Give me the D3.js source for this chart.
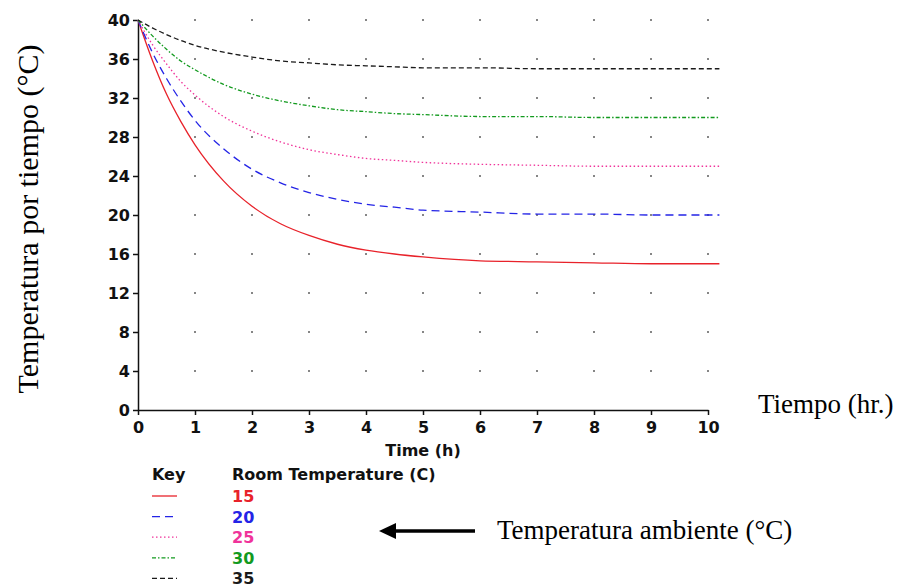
<!DOCTYPE html>
<html>
<head>
<meta charset="utf-8">
<script src="https://cdn.jsdelivr.net/npm/d3@7"></script>
<style>
  body { margin: 0; background: #fff; }
  .tick text { font-family: "DejaVu Sans", Verdana, sans-serif; font-weight: bold; font-size: 16px; fill: #111; }
  .lbl { font-family: "DejaVu Sans", Verdana, sans-serif; font-weight: bold; font-size: 16px; fill: #111; }
  .serif { font-family: "Liberation Serif", "Times New Roman", serif; fill: #000; }
</style>
</head>
<body>
<div id="plot"></div>
<script>
// hours
let times = [0, 0.25, 0.5, 0.75, 1, 1.5, 2, 2.5, 3, 3.5, 4, 4.5, 5, 6, 7, 8, 9, 10, 10.2];

// one list per room temperature
let temp15 = [40, 35.9, 32.4, 29.6, 27.2, 23.5, 20.9, 19.1, 17.9, 17.0, 16.4, 16.0, 15.7, 15.3, 15.2, 15.1, 15.0, 15.0, 15.0];
let temp20 = [40, 36.7, 34.0, 31.7, 29.7, 26.8, 24.7, 23.3, 22.3, 21.6, 21.1, 20.8, 20.5, 20.3, 20.1, 20.1, 20.0, 20.0, 20.0];
let temp25 = [40, 37.5, 35.5, 33.7, 32.3, 30.1, 28.6, 27.5, 26.7, 26.2, 25.8, 25.6, 25.4, 25.2, 25.1, 25.0, 25.0, 25.0, 25.0];
let temp30 = [40, 38.4, 37.0, 35.8, 34.9, 33.4, 32.4, 31.7, 31.2, 30.8, 30.6, 30.4, 30.3, 30.1, 30.1, 30.0, 30.0, 30.0, 30.0];
let temp35 = [40, 39.2, 38.5, 37.9, 37.4, 36.7, 36.2, 35.8, 35.6, 35.4, 35.3, 35.2, 35.1, 35.1, 35.0, 35.0, 35.0, 35.0, 35.0];

let roomTemps = ['15', '20', '25', '30', '35'];
let colors = ['#e8222a', '#2424e6', '#f0339a', '#129a1e', '#1a1a1a'];
let dashes = ['none', '8,5', '1.5,2.5', '4,2,1.5,2', '5,3'];

let xTicks = [0, 1, 2, 3, 4, 5, 6, 7, 8, 9, 10];
let yTicks = [0, 4, 8, 12, 16, 20, 24, 28, 32, 36, 40];

let svgWidth = 898;
let svgHeight = 587;
let margin = { top: 20, left: 138 };
let width = 570;
let height = 390;

let series = [temp15, temp20, temp25, temp30, temp35];

let svg = d3.select('#plot')
            .append('svg')
            .attr('width', svgWidth)
            .attr('height', svgHeight);

let chart = svg.append('g')
               .attr('transform', `translate(${margin.left},${margin.top})`);

let xScale = d3.scaleLinear().domain([0, 10]).range([0, width]);
let yScale = d3.scaleLinear().domain([0, 40]).range([height, 0]);

// dotted grid
let dots = [];
xTicks.slice(1).forEach(function(tx){
    yTicks.slice(1).forEach(function(ty){
        dots.push([tx, ty]);
    })
})
chart.selectAll('.dot')
     .data(dots)
     .enter()
     .append('rect')
     .attr('x', d => xScale(d[0]) - 0.8)
     .attr('y', d => yScale(d[1]) - 0.8)
     .attr('width', 1.6)
     .attr('height', 1.6)
     .attr('fill', '#444');

let xAxis = d3.axisBottom(xScale).tickValues(xTicks).tickSize(5).tickSizeOuter(0).tickPadding(7);
let yAxis = d3.axisLeft(yScale).tickValues(yTicks).tickSize(5).tickSizeOuter(0).tickPadding(3);

chart.append('g')
     .attr('transform', `translate(0,${height})`)
     .call(xAxis)
     .call(g => g.select('.domain').attr('stroke', '#111').attr('stroke-width', 1.5))
     .call(g => g.selectAll('.tick line').attr('stroke', '#111').attr('stroke-width', 1.5));

chart.append('g')
     .call(yAxis)
     .call(g => g.select('.domain').attr('stroke', '#111').attr('stroke-width', 1.5))
     .call(g => g.selectAll('.tick line').attr('stroke', '#111').attr('stroke-width', 1.5));

let line = d3.line()
             .x((d, i) => xScale(times[i]))
             .y(d => yScale(d))
             .curve(d3.curveMonotoneX);

chart.selectAll('.curve')
     .data(series)
     .enter()
     .append('path')
     .attr('d', d => line(d))
     .attr('fill', 'none')
     .attr('stroke', (d, i) => colors[i])
     .attr('stroke-width', 1.3)
     .attr('stroke-dasharray', (d, i) => dashes[i]);

// axis title
chart.append('text')
     .attr('class', 'lbl')
     .attr('x', xScale(5))
     .attr('y', height + 46)
     .attr('text-anchor', 'middle')
     .text('Time (h)');

// key
let key = svg.append('g').attr('transform', 'translate(152,480)');
key.append('text').attr('class', 'lbl').attr('x', 0).attr('y', 0).text('Key');
key.append('text').attr('class', 'lbl').attr('x', 80).attr('y', 0).text('Room Temperature (C)');

let keyRow = key.selectAll('.row')
                .data(roomTemps)
                .enter()
                .append('g')
                .attr('transform', (d, i) => `translate(0,${16 + i * 20.6})`);

keyRow.append('line')
      .attr('x1', 0).attr('x2', 25)
      .attr('y1', 0).attr('y2', 0)
      .attr('stroke', (d, i) => colors[i])
      .attr('stroke-width', 1.3)
      .attr('stroke-dasharray', (d, i) => dashes[i]);

keyRow.append('text')
      .attr('class', 'lbl')
      .attr('x', 80)
      .attr('y', 6)
      .style('fill', (d, i) => colors[i])
      .text(d => d);

// annotations
svg.append('text')
   .attr('class', 'serif')
   .attr('transform', 'translate(38,219) rotate(-90)')
   .attr('text-anchor', 'middle')
   .style('font-size', '30px')
   .text('Temperatura por tiempo (°C)');

svg.append('text')
   .attr('class', 'serif')
   .attr('x', 758)
   .attr('y', 413)
   .style('font-size', '27px')
   .text('Tiempo (hr.)');

svg.append('text')
   .attr('class', 'serif')
   .attr('x', 497)
   .attr('y', 539)
   .style('font-size', '27px')
   .text('Temperatura ambiente (°C)');

// arrow pointing at the key
svg.append('line')
   .attr('x1', 475).attr('y1', 531)
   .attr('x2', 392).attr('y2', 531)
   .attr('stroke', '#000')
   .attr('stroke-width', 3.5);

svg.append('path')
   .attr('d', 'M379,531 L396,523 L396,539 Z')
   .attr('fill', '#000');
</script>
</body>
</html>
